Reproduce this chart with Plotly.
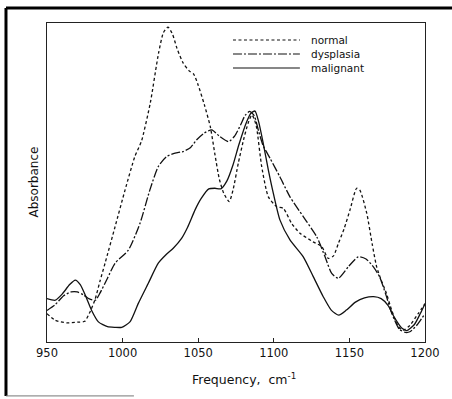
import plotly.graph_objects as go

# ---- data (absorbance in arbitrary units) ----
normal_freq = [950, 955.5, 963, 970, 975, 978, 981.7, 985, 988.4, 995, 1001.6, 1008, 1012.5,
               1018.3, 1023.8, 1027, 1030, 1033, 1036, 1040, 1044, 1047, 1050, 1054, 1058, 1061,
               1064, 1067, 1070.5, 1073, 1076.5, 1080, 1083, 1085.5, 1087, 1088.7, 1092, 1096.4,
               1102, 1106.3, 1111.8, 1117.3, 1126, 1131.7, 1136, 1139.5, 1142.7, 1146.5, 1150.4,
               1154.8, 1157, 1161.5, 1165, 1168, 1171, 1174.5, 1178, 1182.5, 1185.5, 1190,
               1195.5, 1200]
normal_abs = [8.9, 6.8, 6.0, 6.2, 6.5, 9.0, 13.2, 19.0, 24.7, 36.1, 47.6, 58.0, 63.0,
              74.9, 90.6, 97.0, 98.7, 96.5, 92.0, 87.5, 85.0, 84.0, 80.5, 74.5, 67.5, 59.0,
              51.0, 46.5, 44.0, 47.6, 56.0, 63.4, 68.6, 71.2, 70.0, 67.0, 55.0, 45.5,
              42.4, 41.9, 37.2, 34.1, 31.4, 29.9, 26.2, 27.0, 30.9, 35.5, 41.4,
              48.2, 47.5, 40.3, 30.9, 23.6, 19.4, 15.2, 9.9, 4.7, 3.7, 5.2,
              8.9, 12.0]

dysplasia_freq = [950, 955, 961, 966, 970, 974, 978, 982, 985, 990, 995, 1003.8, 1011.5, 1018,
                  1023.6, 1029, 1034.7, 1040, 1045, 1049, 1054, 1059, 1064, 1070, 1074, 1078,
                  1081, 1084, 1087, 1090, 1093, 1097.5, 1104, 1110.7, 1119.5, 1128.4, 1133.9,
                  1138.3, 1142.7, 1149.3, 1155.9, 1161, 1166, 1170, 1174, 1178, 1183, 1187,
                  1190, 1195, 1200]
dysplasia_abs = [9.9, 11.5, 14.5, 15.7, 15.7, 14.8, 13.5, 13.1, 15.3, 20.0, 24.7, 28.8, 37.2, 47.6,
                 55.0, 58.1, 59.2, 59.7, 61.0, 63.4, 65.5, 66.5, 64.5, 62.8, 64.5, 68.0,
                 71.0, 72.3, 71.0, 66.0, 61.5, 57.6, 51.8, 45.5, 39.3, 33.0, 26.7,
                 21.5, 20.0, 23.6, 26.7, 26.0, 23.5, 20.4, 15.0, 9.0, 4.0, 3.0,
                 3.2, 5.5, 8.9]

malignant_freq = [950, 955.5, 960, 965, 968.7, 972, 975.5, 979.6, 984, 990, 995, 999.4, 1005,
                  1010.4, 1017, 1023.6, 1029, 1033.5, 1039, 1043, 1048, 1052, 1057, 1061, 1065,
                  1069, 1073, 1077, 1082, 1085, 1087.6, 1090, 1093, 1096.4, 1099.7, 1104.1,
                  1110.7, 1119.5, 1126.1, 1132.7, 1138, 1143, 1148, 1154, 1160, 1166, 1171,
                  1175.5, 1180, 1185, 1188, 1193, 1197, 1200]
malignant_abs = [13.6, 13.1, 15.0, 18.0, 19.4, 18.0, 14.5, 9.8, 6.3, 4.8, 4.6, 4.6, 6.4,
                 12.1, 18.4, 24.7, 27.5, 29.4, 32.5, 36.0, 41.5, 45.0, 48.0, 48.2, 48.0,
                 50.5, 55.5, 62.0, 69.0, 71.8, 72.4, 69.0, 62.3, 53.9, 46.6, 38.2,
                 32.0, 26.7, 20.5, 14.2, 10.0, 8.4, 10.0, 12.5, 13.8, 14.2, 13.6,
                 11.5, 7.5, 4.2, 3.6, 5.5, 9.0, 12.0]

series_names = ["normal", "dysplasia", "malignant"]
x_ticks = [950, 1000, 1050, 1100, 1150, 1200]

# ---- styles ----
dash_styles = ["3px,2.5px", "9px,2px,2px,2px", "solid"]
FONT = "DejaVu Sans"

fig = go.Figure()
for name, xs, ys, d in zip(series_names,
                           [normal_freq, dysplasia_freq, malignant_freq],
                           [normal_abs, dysplasia_abs, malignant_abs],
                           dash_styles):
    fig.add_trace(go.Scatter(x=xs, y=ys, mode="lines", name=name,
                             line=dict(color="#111", width=1.3, dash=d,
                                       shape="spline", smoothing=0.6),
                             showlegend=False))

# manual legend (long line samples like the original)
leg_y = [0.9467, 0.9028, 0.859]
for name, d, yy in zip(series_names, dash_styles, leg_y):
    fig.add_shape(type="line", xref="paper", yref="paper", x0=0.492, x1=0.669, y0=yy, y1=yy,
                  line=dict(color="#111", width=1.1, dash=d))
    fig.add_annotation(x=0.693, y=yy, xref="paper", yref="paper", text=name,
                       showarrow=False, xanchor="left", yanchor="middle",
                       font=dict(family=FONT, size=10.5, color="#111"))

# axis titles
fig.add_annotation(x=0.52, y=-0.115, xref="paper", yref="paper",
                   text="Frequency,  cm<sup>-1</sup>", showarrow=False,
                   xanchor="center", yanchor="middle",
                   font=dict(family=FONT, size=12.5, color="#111"))
fig.add_annotation(x=-0.037, y=0.5, xref="paper", yref="paper", text="Absorbance",
                   textangle=-90, showarrow=False, xanchor="center", yanchor="middle",
                   font=dict(family=FONT, size=12, color="#111"))

# outer scanned frame
fig.add_shape(type="line", xref="paper", yref="paper", x0=-0.1085, x1=-0.1085, y0=-0.169, y1=1.047,
              line=dict(color="#000", width=3))
fig.add_shape(type="line", xref="paper", yref="paper", x0=-0.1085, x1=1.1, y0=1.047, y1=1.047,
              line=dict(color="#000", width=3))
fig.add_shape(type="line", xref="paper", yref="paper", x0=-0.1085, x1=0.23, y0=-0.169, y1=-0.169,
              line=dict(color="#777", width=1))

fig.update_layout(
    width=452, height=399,
    margin=dict(l=47, r=27, t=23, b=57),
    paper_bgcolor="white", plot_bgcolor="white",
    xaxis=dict(range=[950, 1200], tickvals=x_ticks, ticktext=[str(v) for v in x_ticks],
               showgrid=False, zeroline=False, showline=True, mirror=True,
               linecolor="#222", linewidth=1, ticks="inside", ticklen=4, tickcolor="#222",
               tickfont=dict(family=FONT, size=11.5, color="#111")),
    yaxis=dict(range=[0, 100], showticklabels=False, showgrid=False, zeroline=False,
               showline=True, mirror=True, linecolor="#222", linewidth=1, ticks=""),
)

fig.write_html("out.html")
